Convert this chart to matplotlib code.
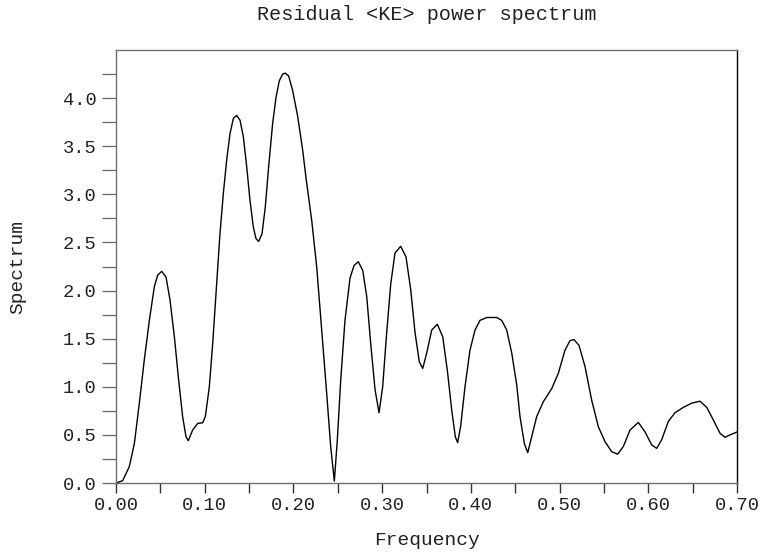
import matplotlib
matplotlib.use("Agg")
import matplotlib.pyplot as plt
from matplotlib.ticker import FixedLocator, FormatStrFormatter, MultipleLocator

freq = [0.000, 0.0075, 0.015, 0.0207, 0.0263, 0.0319, 0.0376, 0.0432, 0.047, 0.0515,
        0.0564, 0.0609, 0.0658, 0.0706, 0.0751, 0.0789, 0.0815, 0.0864, 0.0921, 0.0977,
        0.1007, 0.1052, 0.109, 0.1127, 0.1172, 0.121, 0.1248, 0.1285, 0.1323, 0.136,
        0.1398, 0.1435, 0.1473, 0.151, 0.1548, 0.1578, 0.1608, 0.1646, 0.1683, 0.1721,
        0.1766, 0.1804, 0.1841, 0.1879, 0.1909, 0.1946, 0.1991, 0.2048, 0.2104, 0.2142,
        0.2206, 0.2262, 0.2319, 0.2375, 0.242, 0.2461, 0.2495, 0.2533, 0.2581, 0.2638,
        0.2683, 0.2731, 0.2781, 0.2826, 0.2871, 0.292, 0.2965, 0.3006, 0.3051, 0.3097,
        0.3145, 0.3209, 0.3269, 0.3322, 0.3371, 0.3419, 0.3457, 0.3502, 0.3559, 0.3622,
        0.3683, 0.3735, 0.3784, 0.3825, 0.3851, 0.3885, 0.3934, 0.399, 0.4047, 0.4103,
        0.4179, 0.4291, 0.4348, 0.4404, 0.4461, 0.4517, 0.4554, 0.4603, 0.4641, 0.4686,
        0.4742, 0.4817, 0.4911, 0.4986, 0.5061, 0.5118, 0.5163, 0.5219, 0.5287, 0.5362,
        0.5437, 0.5512, 0.5588, 0.5655, 0.5719, 0.5794, 0.5888, 0.5964, 0.6039, 0.6095,
        0.6151, 0.6226, 0.6301, 0.6395, 0.649, 0.6583, 0.6659, 0.6733, 0.6809, 0.6865,
        0.6921, 0.700]
spectrum = [0.00, 0.024, 0.17, 0.41, 0.83, 1.28, 1.69, 2.04, 2.16, 2.20,
            2.14, 1.90, 1.52, 1.07, 0.69, 0.48, 0.44, 0.55, 0.62, 0.625,
            0.69, 1.00, 1.45, 1.97, 2.59, 3.01, 3.36, 3.63, 3.79, 3.82,
            3.77, 3.60, 3.29, 2.94, 2.66, 2.54, 2.51, 2.59, 2.87, 3.29,
            3.74, 4.01, 4.18, 4.25, 4.26, 4.23, 4.08, 3.81, 3.46, 3.17,
            2.73, 2.25, 1.59, 0.93, 0.38, 0.02, 0.45, 1.07, 1.69, 2.13,
            2.26, 2.30, 2.21, 1.94, 1.45, 0.97, 0.73, 1.00, 1.56, 2.07,
            2.39, 2.46, 2.35, 2.01, 1.56, 1.26, 1.19, 1.35, 1.59, 1.65,
            1.52, 1.17, 0.76, 0.48, 0.42, 0.59, 1.00, 1.38, 1.59, 1.69,
            1.72, 1.72, 1.69, 1.59, 1.35, 1.02, 0.69, 0.41, 0.315, 0.48,
            0.69, 0.845, 0.98, 1.14, 1.38, 1.48, 1.49, 1.43, 1.21, 0.86,
            0.585, 0.43, 0.325, 0.30, 0.38, 0.55, 0.63, 0.53, 0.395, 0.36,
            0.45, 0.64, 0.73, 0.786, 0.83, 0.85, 0.786, 0.655, 0.516, 0.475,
            0.50, 0.53]

y_major = [0.0, 0.5, 1.0, 1.5, 2.0, 2.5, 3.0, 3.5, 4.0]
y_minor = [0.25, 0.75, 1.25, 1.75, 2.25, 2.75, 3.25, 3.75, 4.25]

title = "Residual <KE> power spectrum"
xlabel = "Frequency"
ylabel = "Spectrum"

plt.rcParams['font.family'] = ['Liberation Mono', 'DejaVu Sans Mono']

fig = plt.figure(figsize=(7.63, 5.54), dpi=100)
ax = fig.add_axes([116/763, 1-483/554, (737-116)/763, (483-50)/554])
ax.plot(freq, spectrum, color='black', lw=1.0, solid_joinstyle='round')

ax.set_xlim(0, 0.70)
ax.set_ylim(0, 4.5)

gray = '#707070'
for s in ['left', 'top', 'bottom']:
    ax.spines[s].set_color(gray)
ax.spines['right'].set_color('black')
for s in ax.spines.values():
    s.set_linewidth(1.0)

ax.xaxis.set_major_locator(MultipleLocator(0.1))
ax.xaxis.set_minor_locator(MultipleLocator(0.05))
ax.xaxis.set_major_formatter(FormatStrFormatter('%.2f'))
ax.yaxis.set_major_locator(FixedLocator(y_major))
ax.yaxis.set_minor_locator(FixedLocator(y_minor))
ax.yaxis.set_major_formatter(FormatStrFormatter('%.1f'))

ax.tick_params(axis='x', which='both', direction='out', length=7.2, width=1.0,
               color='#333333', labelsize=13.5, pad=3, top=False)
ax.tick_params(axis='y', which='both', direction='out', length=10, width=1.0,
               color=gray, labelsize=13.5, pad=4, right=False)
ax.tick_params(labelcolor='#222222')

ax.set_title(title, fontsize=14.5, pad=21.5, color='#222222')
ax.set_xlabel(xlabel, fontsize=14, labelpad=13, color='#222222')
ax.set_ylabel(ylabel, fontsize=14, labelpad=26, color='#222222')

fig.savefig('out.png', dpi=100)
